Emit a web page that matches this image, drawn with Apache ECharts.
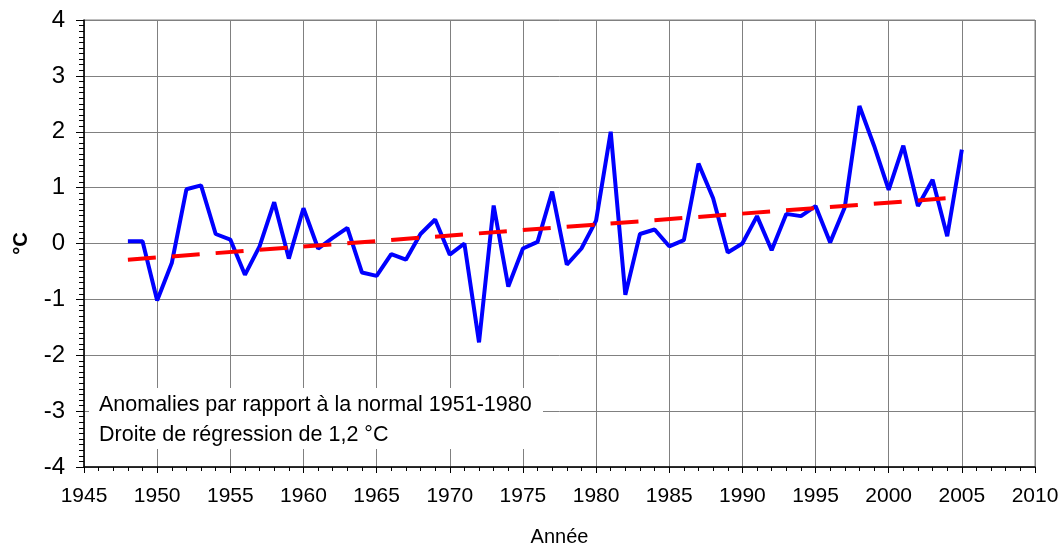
<!DOCTYPE html>
<html lang="fr">
<head>
<meta charset="UTF-8" />
<title>Anomalies de température</title>
<script src="https://cdn.jsdelivr.net/npm/echarts@6/dist/echarts.min.js"></script>
</head>
<body style="margin:0">
<div id="main" style="width:1061px;height:548px;"></div>
<script type="text/javascript">
// années et anomalies
var years = [1948, 1949, 1950, 1951, 1952, 1953, 1954, 1955, 1956, 1957,
             1958, 1959, 1960, 1961, 1962, 1963, 1964, 1965, 1966, 1967,
             1968, 1969, 1970, 1971, 1972, 1973, 1974, 1975, 1976, 1977,
             1978, 1979, 1980, 1981, 1982, 1983, 1984, 1985, 1986, 1987,
             1988, 1989, 1990, 1991, 1992, 1993, 1994, 1995, 1996, 1997,
             1998, 1999, 2000, 2001, 2002, 2003, 2004, 2005];
var anomalies = [0.04, 0.04, -1.02, -0.35, 0.97, 1.04, 0.17, 0.07, -0.56, -0.05,
                 0.74, -0.27, 0.63, -0.09, 0.10, 0.28, -0.52, -0.58, -0.19, -0.29,
                 0.17, 0.43, -0.20, 0.00, -1.77, 0.68, -0.77, -0.09, 0.03, 0.93,
                 -0.38, -0.09, 0.41, 2.00, -0.92, 0.17, 0.25, -0.05, 0.06, 1.43,
                 0.81, -0.16, 0.00, 0.49, -0.12, 0.53, 0.49, 0.67, 0.02, 0.65,
                 2.46, 1.75, 0.96, 1.75, 0.67, 1.14, 0.13, 1.68];
// droite de régression (début / fin)
var trendYears = [1948, 2004];
var trendValues = [-0.29, 0.81];

var lineData = [];
for (var i = 0; i < years.length; i++) {
    lineData.push([years[i], anomalies[i]]);
}
var trendData = [];
for (var j = 0; j < trendYears.length; j++) {
    trendData.push([trendYears[j], trendValues[j]]);
}

var font = 'Liberation Sans, Arial, sans-serif';
var myChart = echarts.init(document.getElementById('main'));
var option = {
    animation: false,
    backgroundColor: '#ffffff',
    grid: {
        left: 84, right: 26, top: 20, bottom: 81,
        outerBoundsMode: 'none',
        show: true, borderColor: '#808080', borderWidth: 1
    },
    xAxis: {
        type: 'value',
        min: 1945, max: 2010, interval: 5,
        name: 'Année',
        nameLocation: 'middle',
        nameGap: 60,
        nameTextStyle: { fontFamily: font, fontSize: 20, color: '#000' },
        axisLine: { onZero: false, lineStyle: { color: '#000', width: 1.5 } },
        axisTick: { length: 6, lineStyle: { color: '#000' } },
        minorTick: { show: true, splitNumber: 5, length: 4, lineStyle: { color: '#000' } },
        axisLabel: {
            fontFamily: font, fontSize: 21, color: '#000', margin: 19,
            formatter: function (v) { return String(v); }
        },
        splitLine: { show: true, lineStyle: { color: '#808080', width: 1 } }
    },
    yAxis: {
        type: 'value',
        min: -4, max: 4, interval: 1,
        name: '°C',
        nameLocation: 'middle',
        nameGap: 53,
        nameTextStyle: { fontFamily: font, fontSize: 20, fontWeight: 'bold', color: '#000' },
        axisLine: { show: true, lineStyle: { color: '#000', width: 1.5 } },
        axisTick: { show: true, length: 8, lineStyle: { color: '#000' } },
        minorTick: { show: true, splitNumber: 10, length: 5, lineStyle: { color: '#000' } },
        axisLabel: { fontFamily: font, fontSize: 24, color: '#000', margin: 19 },
        splitLine: { show: true, lineStyle: { color: '#808080', width: 1 } }
    },
    graphic: [
        {
            type: 'rect',
            shape: { x: 89, y: 388, width: 454, height: 61 },
            style: { fill: '#ffffff' },
            z: 5
        },
        {
            type: 'text',
            x: 99, y: 405,
            style: {
                text: 'Anomalies par rapport à la normal 1951-1980',
                font: '21.5px ' + font, fill: '#000', verticalAlign: 'middle'
            },
            z: 6
        },
        {
            type: 'text',
            x: 99, y: 435,
            style: {
                text: 'Droite de régression de 1,2 °C',
                font: '21.5px ' + font, fill: '#000', verticalAlign: 'middle'
            },
            z: 6
        }
    ],
    series: [
        {
            name: 'Anomalies',
            type: 'line',
            data: lineData,
            symbol: 'none',
            lineStyle: { color: '#0000ff', width: 4 },
            z: 3
        },
        {
            name: 'Régression',
            type: 'line',
            data: trendData,
            symbol: 'none',
            lineStyle: { color: '#ff0000', width: 4, type: [28, 16] },
            z: 4
        }
    ]
};
myChart.setOption(option);
</script>
</body>
</html>
